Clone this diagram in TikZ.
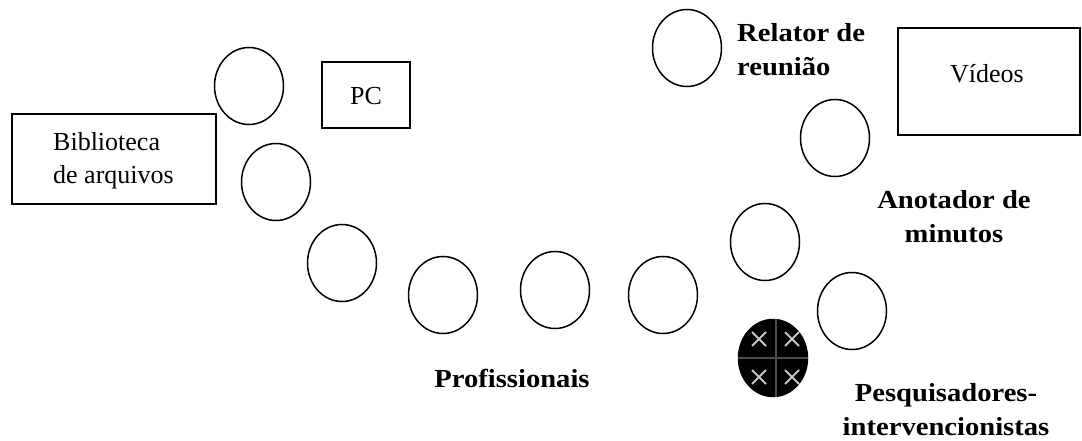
\documentclass[tikz,border=0pt]{standalone}
\usepackage{fontspec}
\setmainfont{Liberation Serif}[BoldFeatures={FakeStretch=1.1}]
\usetikzlibrary{shapes.geometric,calc}
\begin{document}
\begin{tikzpicture}[x=1pt,y=-1pt,
  seat/.style={draw=black,line width=1.5pt,ellipse,minimum width=69pt,minimum height=77pt,inner sep=0pt},
  boxnode/.style={draw=black,line width=2.5pt,inner sep=0pt},
  lbl/.style={font=\fontsize{26}{34}\selectfont\bfseries,inner sep=0pt},
  txt/.style={font=\fontsize{26}{33}\selectfont,inner sep=0pt},
  crossline/.style={draw=gray!60!black,line width=1.2pt},
  xmark/.style={draw=gray!45,line width=1.8pt}]
\useasboundingbox (0,0) rectangle (1082,441);
% boxes
\node[boxnode,minimum width=204pt,minimum height=90pt] (bib) at (114,159) {};
\node[txt,align=left,anchor=west] (bibt) at (53,161) {Biblioteca\\de arquivos};
\node[boxnode,minimum width=88pt,minimum height=66pt] (pc) at (366,95) {};
\node[txt] (pct) at (366,96) {PC};
\node[boxnode,minimum width=182pt,minimum height=107pt] (vid) at (989,81.5) {};
\node[txt,anchor=base] (vidt) at (987,83) {Vídeos};
% seats
\node[seat] (s1) at (249,86) {};
\node[seat] (s2) at (276,182) {};
\node[seat] (s3) at (342,263) {};
\node[seat] (s4) at (443,295) {};
\node[seat] (s5) at (555,290) {};
\node[seat] (s6) at (663,295) {};
\node[seat] (s7) at (687,48) {};
\node[seat] (s8) at (835,138) {};
\node[seat] (s9) at (765,242) {};
\node[seat] (s10) at (852,311) {};
% researcher (black)
\node[seat,fill=black] (r) at (773,358) {};
\draw[crossline] ($(r.north)+(3,0)$) -- ($(r.south)+(3,0)$);
\draw[crossline] (r.west) -- (r.east);
\foreach \dx/\dy in {-14/-19,19/-19,-14/19,19/19}{
  \draw[xmark] ($(r.center)+(\dx-7,\dy-7)$) -- ++(14,14);
  \draw[xmark] ($(r.center)+(\dx-7,\dy+7)$) -- ++(14,-14);
}
% labels
\node[lbl,align=left,anchor=west] (rel) at (737,50) {Relator de\\reunião};
\node[lbl,align=center] (ano) at (954,217) {Anotador de\\minutos};
\node[lbl,align=center] (pes) at (946,410) {Pesquisadores-\\intervencionistas};
\node[lbl,anchor=base] (prof) at (512,387) {Profissionais};
\end{tikzpicture}
\end{document}
